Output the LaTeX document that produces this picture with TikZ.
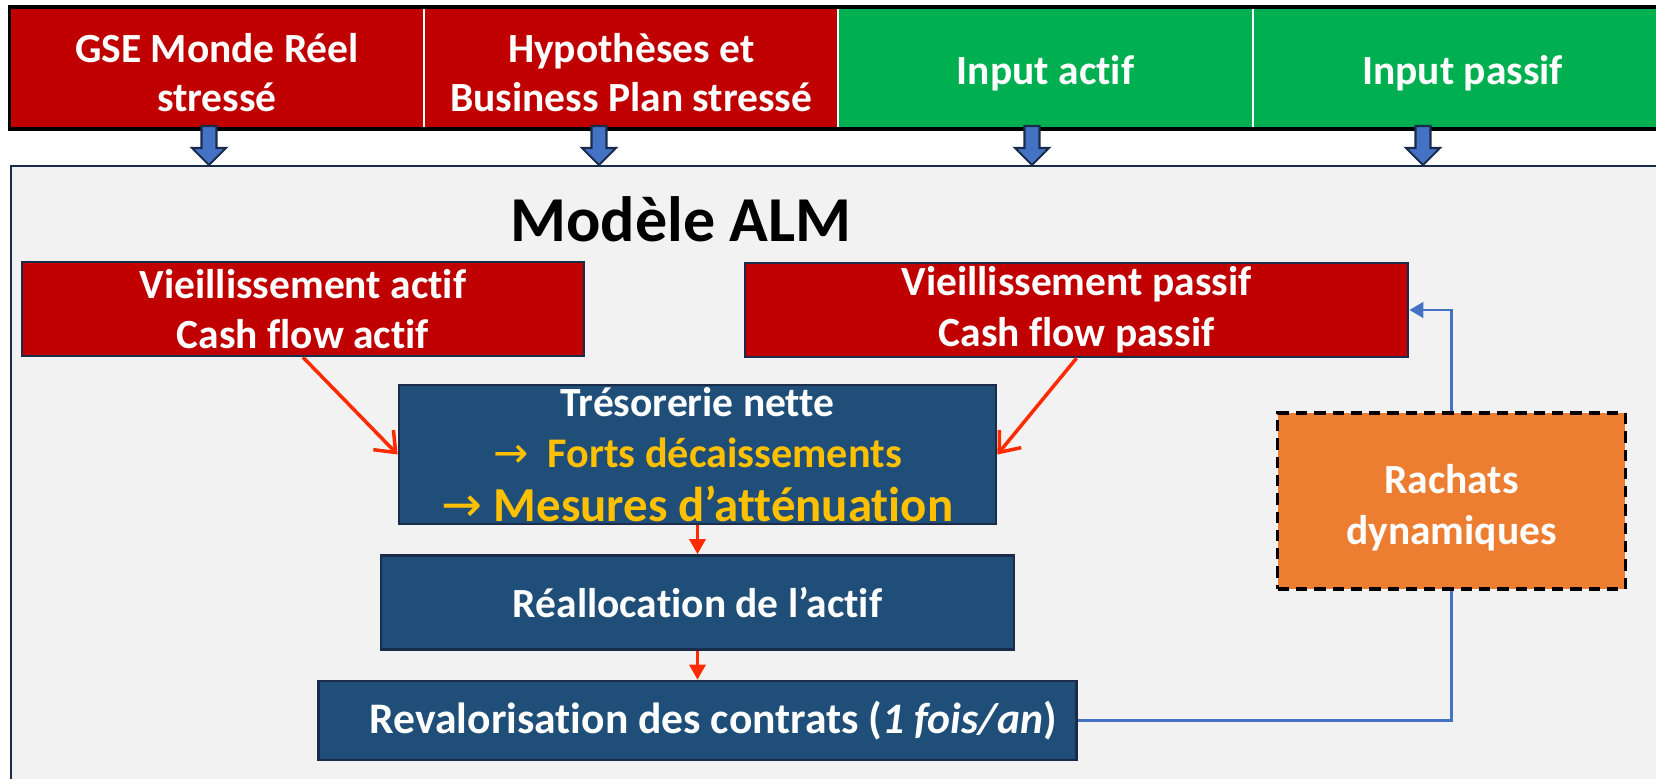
\documentclass[tikz,border=0pt]{standalone}
\usepackage{fontspec}
\setmainfont{Carlito}[Ligatures=NoCommon]
\newfontfamily\flechefont{DejaVu Sans}
\usetikzlibrary{arrows.meta,positioning}

\definecolor{rougebox}{HTML}{C00000}
\definecolor{vertbox}{HTML}{00B050}
\definecolor{bleubox}{HTML}{1F4E79}
\definecolor{bordbox}{HTML}{1B2C4B}
\definecolor{fondalm}{HTML}{F2F2F2}
\definecolor{jaune}{HTML}{FFC000}
\definecolor{orangebox}{HTML}{ED7D31}
\definecolor{bleuligne}{HTML}{4472C4}
\definecolor{rougefleche}{HTML}{FF2A00}

\tikzset{
	%Define style for the cells of the top bar
	entete/.style={
		rectangle,
		draw=white, line width=0.6pt,
		minimum width=4.14cm,
		minimum height=1.22cm,
		inner sep=0pt, outer sep=0pt},
	entetetexte/.style={
		text=white, align=center,
		font=\fontsize{11.8}{13.9}\selectfont\bfseries},
	%Define style for boxes
	boite/.style={
		rectangle,
		draw=bordbox, line width=0.7pt,
		inner sep=0pt,
		text=white, align=center,
		font=\fontsize{11.8}{14.4}\selectfont\bfseries},
	% Define arrow styles
	fleche/.style={
		-{Straight Barb[length=5pt,width=8pt]},
		line width=1pt, rougefleche},
	flechepleine/.style={
		-{Triangle[length=4.3pt,width=4.5pt]},
		line width=1pt, rougefleche},
	lien/.style={
		line width=0.7pt, bleuligne},
	blocfleche/.style={
		fill=bleuligne, draw=bordbox, line width=0.6pt}
}

\begin{document}
\begin{tikzpicture}[x=0.01cm, y=-0.01cm, node distance=0.29cm]
	
	\clip (0,0) rectangle (1656,779);
	\fill[white] (0,0) rectangle (1656,779);
	
	% top bar
	\node[entete, fill=rougebox] (gse) at (217,68) {};
	\node[entete, fill=rougebox, right=0pt of gse] (hypo) {};
	\node[entete, fill=vertbox, right=0pt of hypo] (inactif) {};
	\node[entete, fill=vertbox, right=0pt of inactif] (inpassif) {};
	\draw[line width=0.9pt] (gse.north west) rectangle (inpassif.south east);
	\node[entetetexte, yshift=-1.2pt] (gsetxt) at (gse.center) {GSE Monde Réel\\stressé};
	\node[entetetexte, yshift=-1.2pt] (hypotxt) at (hypo.center) {Hypothèses et\\Business Plan stressé};
	\node[entetetexte, yshift=-1.6pt] (inactiftxt) at (inactif.center) {Input actif};
	\node[entetetexte, yshift=-1.6pt, xshift=0.8pt] (inpassiftxt) at (inpassif.center) {Input passif};
	
	% ALM frame
	\node[draw=bordbox, line width=0.6pt, fill=fondalm, minimum width=17cm, minimum height=7cm, anchor=north west, inner sep=0pt] (alm) at (10,165) {};
	\foreach \x in {209,599,1032,1423}
		\draw[blocfleche] (\x-7.5,126) -- ++(15,0) -- ++(0,22) -- ++(9.5,0) -- (\x,165) -- (\x-17,148) -- (\x-7.5,148) -- cycle;
	
	\node[font=\fontsize{18.2}{22}\selectfont\bfseries] (titre) at (681,219) {Modèle ALM};
	
	\node[boite, fill=rougebox, minimum width=5.62cm, minimum height=0.94cm] (vieilactif) at (303,309) {Vieillissement actif\\Cash flow actif};
	\node[boite, fill=rougebox, minimum width=6.63cm, minimum height=0.94cm] (vieilpassif) at (1076.5,310) {Vieillissement passif\\Cash flow passif};
	\node[boite, fill=bleubox, minimum width=5.97cm, minimum height=1.39cm] (treso) at (697.5,454.5) {Trésorerie nette\\
		{\color{jaune}\fontsize{12}{15}\selectfont{\flechefont\mdseries →}\ \ Forts décaissements}\\[1pt]
		{\color{jaune}\fontsize{13.9}{15.4}\selectfont{\flechefont\mdseries →} Mesures d’atténuation}};
	\node[boite, fill=bleubox, minimum width=6.33cm, minimum height=0.94cm, below=of treso] (realloc) {Réallocation de l’actif};
	\node[boite, fill=bleubox, minimum width=7.58cm, minimum height=0.79cm, below=of realloc, font=\fontsize{12.4}{15}\selectfont\bfseries] (reval) {\hspace*{9pt}Revalorisation des contrats (\textit{1 fois/an})};
	\node[boite, fill=orangebox, draw=black, line width=0.9pt, dash pattern=on 3.2pt off 2pt, minimum width=3.47cm, minimum height=1.76cm] (rachats) at (1451.5,501) {\rule{0pt}{12pt}Rachats\\dynamiques};
	
	\draw[fleche] (vieilactif.south) -- (treso.west);
	\draw[fleche] (vieilpassif.south) -- (treso.east);
	\draw[flechepleine] (treso.south) -- (realloc.north);
	\draw[flechepleine] (realloc.south) -- (reval.north);
	\draw[lien] (reval.east) -| (rachats.south);
	\draw[lien, -{Triangle[length=4pt,width=4.5pt]}] (rachats.north) |- (vieilpassif.east);
	
\end{tikzpicture}
\end{document}
